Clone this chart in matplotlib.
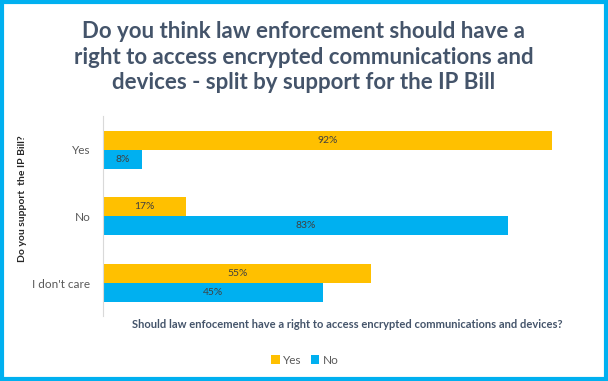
import numpy as np
import matplotlib.pyplot as plt
from matplotlib.patches import Rectangle

categories = ['Yes', 'No', "I don't care"]
yes_values = [0.92, 0.17, 0.55]
no_values = [0.08, 0.83, 0.45]
series_names = ['Yes', 'No']

yellow = '#FFC000'
blue = '#00B0F0'
title_color = '#44546A'
text_color = '#595959'

plt.rcParams['font.family'] = ['Lato', 'DejaVu Sans']

fig = plt.figure(figsize=(6.08, 3.81), dpi=100)
ax = fig.add_axes([103 / 608, 1 - 316.5 / 381, 488 / 608, 200 / 381])

y = np.arange(len(categories))
h = 0.285
b1 = ax.barh(y - h / 2, yes_values, height=h, color=yellow, label=series_names[0])
b2 = ax.barh(y + h / 2, no_values, height=h, color=blue, label=series_names[1])

for bars, vals in ((b1, yes_values), (b2, no_values)):
    for bar, v in zip(bars, vals):
        ax.text(bar.get_width() / 2, bar.get_y() + bar.get_height() / 2,
                f'{v:.0%}', ha='center', va='center', fontsize=7.5,
                color='#404040')

ax.set_ylim(len(categories) - 0.5, -0.5)
ax.set_xlim(0, 1.0)
ax.set_yticks(y)
ax.set_yticklabels(categories, fontsize=8.5, color=text_color)
ax.set_xticks([])
ax.tick_params(axis='y', length=0, pad=9)
for s in ['top', 'right', 'bottom']:
    ax.spines[s].set_visible(False)
ax.spines['left'].set_color('#D9D9D9')

ax.set_ylabel('Do you support  the IP Bill?', fontsize=7.5, fontweight='bold',
              color='#262626')
ax.yaxis.set_label_coords(-0.155, 0.5875)

fig.text(0.5, 1 - 57 / 381,
         'Do you think law enforcement should have a\n'
         'right to access encrypted communications and\n'
         'devices - split by support for the IP Bill',
         ha='center', va='center', fontsize=16, fontweight='bold',
         color=title_color, linespacing=1.25)

fig.text(347.5 / 608, 1 - 325 / 381,
         'Should law enfocement have a right to access encrypted communications and devices?',
         ha='center', va='center', fontsize=8, fontweight='bold', color=title_color)

fig.legend(handles=[b1, b2], loc='center', bbox_to_anchor=(305 / 608, 1 - 360 / 381),
           ncol=2, frameon=False, fontsize=8.5, handlelength=0.7, handleheight=0.7,
           columnspacing=0.8, handletextpad=0.3, labelcolor=text_color)

fig.patches.append(Rectangle((0.0025, 0.004), 0.995, 0.992, transform=fig.transFigure,
                             fill=False, edgecolor=blue, linewidth=3))

fig.savefig('out.png', dpi=100)
